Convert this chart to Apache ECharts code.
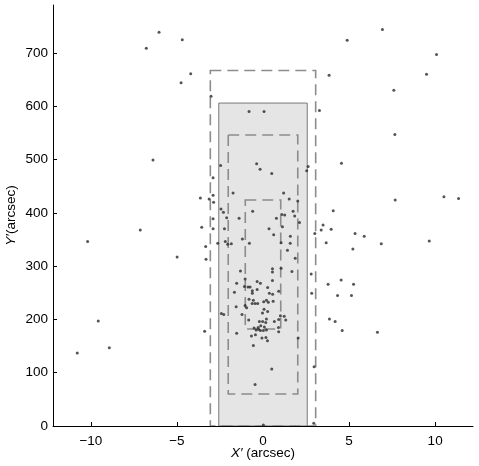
<!DOCTYPE html>
<html>
<head>
<meta charset="utf-8">
<script src="https://cdn.jsdelivr.net/npm/echarts@6/dist/echarts.min.js"></script>
<style>html,body{margin:0;padding:0;background:#fff}#c{width:479px;height:466px}</style>
</head>
<body>
<div id="c"></div>
<script>
// Axis tick labels
const xTicks = [-10, -5, 0, 5, 10];
const yTicks = [0, 100, 200, 300, 400, 500, 600, 700];

// Shaded box [x0, y0, x1, y1]
const shadedBox = [-2.57, 0, 2.57, 606];
// Dashed boxes [x0, y0, x1, y1]
const dashedBoxes = [
  [-3.06, 0, 3.06, 667],
  [-2.02, 60, 2.02, 546],
  [-1.03, 182, 1.03, 424]
];

// Point coordinates X' (arcsec)
const ptX = [
-6.04,-6.78,-4.69,-4.20,-4.76,-3.02,-6.39,-7.13,-10.19,-4.99,-9.57,-8.93,-10.79,-3.64,-3.13,-2.90,-2.87,-2.90,-3.56,-2.90,
-2.90,-3.33,-3.31,-3.39,-2.46,-1.74,-2.44,-2.30,-2.11,-1.39,-2.24,-2.63,-2.19,-2.05,-1.84,-1.20,-0.79,-1.31,-1.53,-1.66,
-1.56,-2.42,-2.28,-1.53,-0.81,0.06,-0.37,-0.17,0.51,2.62,2.54,1.20,1.52,2.02,-0.60,1.09,1.26,1.75,1.84,2.12,
0.78,1.13,0.35,0.62,1.59,1.05,1.58,1.42,1.87,1.68,1.05,0.55,0.55,0.55,-1.04,-1.08,-0.87,-0.75,-0.34,-0.15,
0.27,-0.34,-0.62,-0.62,0.91,0.37,0.56,-0.81,-0.56,-0.63,-0.46,-0.31,-1.04,-0.95,0.04,0.20,0.31,0.59,0.06,-0.03,
0.27,-1.22,-0.83,0.20,-0.02,-0.21,0.16,0.66,1.01,1.23,0.91,1.32,-0.13,-0.28,-0.52,0.08,0.90,0.91,-0.40,-0.25,
-0.15,0.20,0.02,-0.67,-0.44,-0.06,0.17,0.26,-0.56,2.04,0.51,-0.46,0.02,3.28,3.01,2.80,2.83,2.97,2.95,3.84,
4.89,6.94,10.08,9.50,7.60,7.66,4.56,7.68,10.51,11.36,4.08,3.49,3.38,3.96,5.35,5.88,3.67,5.22,6.87,9.66,
3.78,4.54,5.26,4.33,5.14,3.86,4.19,4.60,6.65
];
// Point coordinates Y' (arcsec)
const ptY = [
739,709,725,661,644,619,499,368,346,317,197,147,137,428,426,433,420,466,373,370,
389,337,313,178,489,437,407,401,391,390,370,343,346,341,342,351,343,291,268,251,
224,211,209,174,590,590,492,482,474,487,479,437,426,422,403,397,396,403,394,382,
390,374,370,359,356,344,343,330,315,290,296,295,289,273,276,262,261,261,271,268,
260,256,254,249,253,249,247,238,236,230,230,230,226,222,233,236,232,234,219,212,
215,209,199,201,196,196,194,196,207,206,200,199,188,185,184,186,185,177,180,181,
179,180,179,169,171,165,166,160,151,165,107,78,2,592,361,285,249,111,5,658,
724,744,697,660,630,547,493,424,430,427,404,377,368,369,361,356,344,332,342,347,
266,274,266,245,245,201,196,179,176
];

const points = ptX.map((x, i) => [x, ptY[i]]);

const chart = echarts.init(document.getElementById('c'), null, {renderer: 'canvas'});
const fmt = v => String(v).replace('-', '\u2212');
const font = 'Liberation Sans, Arial, Helvetica, sans-serif';

function boxRender(filled) {
  return function (params, api) {
    const b = filled ? shadedBox : dashedBoxes[params.dataIndex];
    const p0 = api.coord([b[0], b[3]]);
    const p1 = api.coord([b[2], b[1]]);
    return {
      type: 'rect',
      shape: {x: p0[0], y: p0[1], width: p1[0] - p0[0], height: p1[1] - p0[1]},
      style: filled
        ? {fill: '#e5e5e5', stroke: '#7a7a7a', lineWidth: 1}
        : {fill: null, stroke: '#8c8c8c', lineWidth: 1.6, lineDash: [11, 6]}
    };
  };
}

const nameRich = {
  i: {fontStyle: 'italic', fontSize: 13.5, fontFamily: font, color: '#000'},
  n: {fontSize: 13.5, fontFamily: font, color: '#000'}
};

chart.setOption({
  animation: false,
  backgroundColor: '#fff',
  grid: {left: 53, right: 6, top: 5, bottom: 40, containLabel: false, outerBoundsMode: 'none'},
  xAxis: {
    type: 'value', min: -12.2, max: 12.2,
    name: "{i|X\u2032}{n| (arcsec)}", nameLocation: 'middle', nameGap: 20, nameMoveOverlap: false,
    nameTextStyle: {color: '#000', fontSize: 13.5, fontFamily: font, rich: nameRich},
    axisLine: {onZero: false, lineStyle: {color: '#000', width: 1}},
    axisTick: {inside: true, length: 4, lineStyle: {color: '#000'}, customValues: xTicks},
    axisLabel: {color: '#000', fontSize: 13.5, fontFamily: font, margin: 8, customValues: xTicks, formatter: fmt},
    splitLine: {show: false}
  },
  yAxis: {
    type: 'value', min: 0, max: 790,
    name: "{i|Y\u2032}{n|(arcsec)}", nameLocation: 'middle', nameGap: 35, nameMoveOverlap: false,
    nameTextStyle: {color: '#000', fontSize: 13.5, fontFamily: font, rich: nameRich},
    axisLine: {onZero: false, lineStyle: {color: '#000', width: 1}},
    axisTick: {inside: true, length: 4, lineStyle: {color: '#000'}, customValues: yTicks},
    axisLabel: {color: '#000', fontSize: 13.5, fontFamily: font, margin: 5, customValues: yTicks},
    splitLine: {show: false}
  },
  series: [
    {type: 'custom', renderItem: boxRender(true), data: [0], z: 1, silent: true, clip: true},
    {type: 'custom', renderItem: boxRender(false), data: dashedBoxes.map((b, i) => i), z: 2, silent: true, clip: true},
    {type: 'scatter', data: points, symbol: 'circle', symbolSize: 3,
      itemStyle: {color: '#2b2b2b'}, z: 3, silent: true}
  ]
});
</script>
</body>
</html>
